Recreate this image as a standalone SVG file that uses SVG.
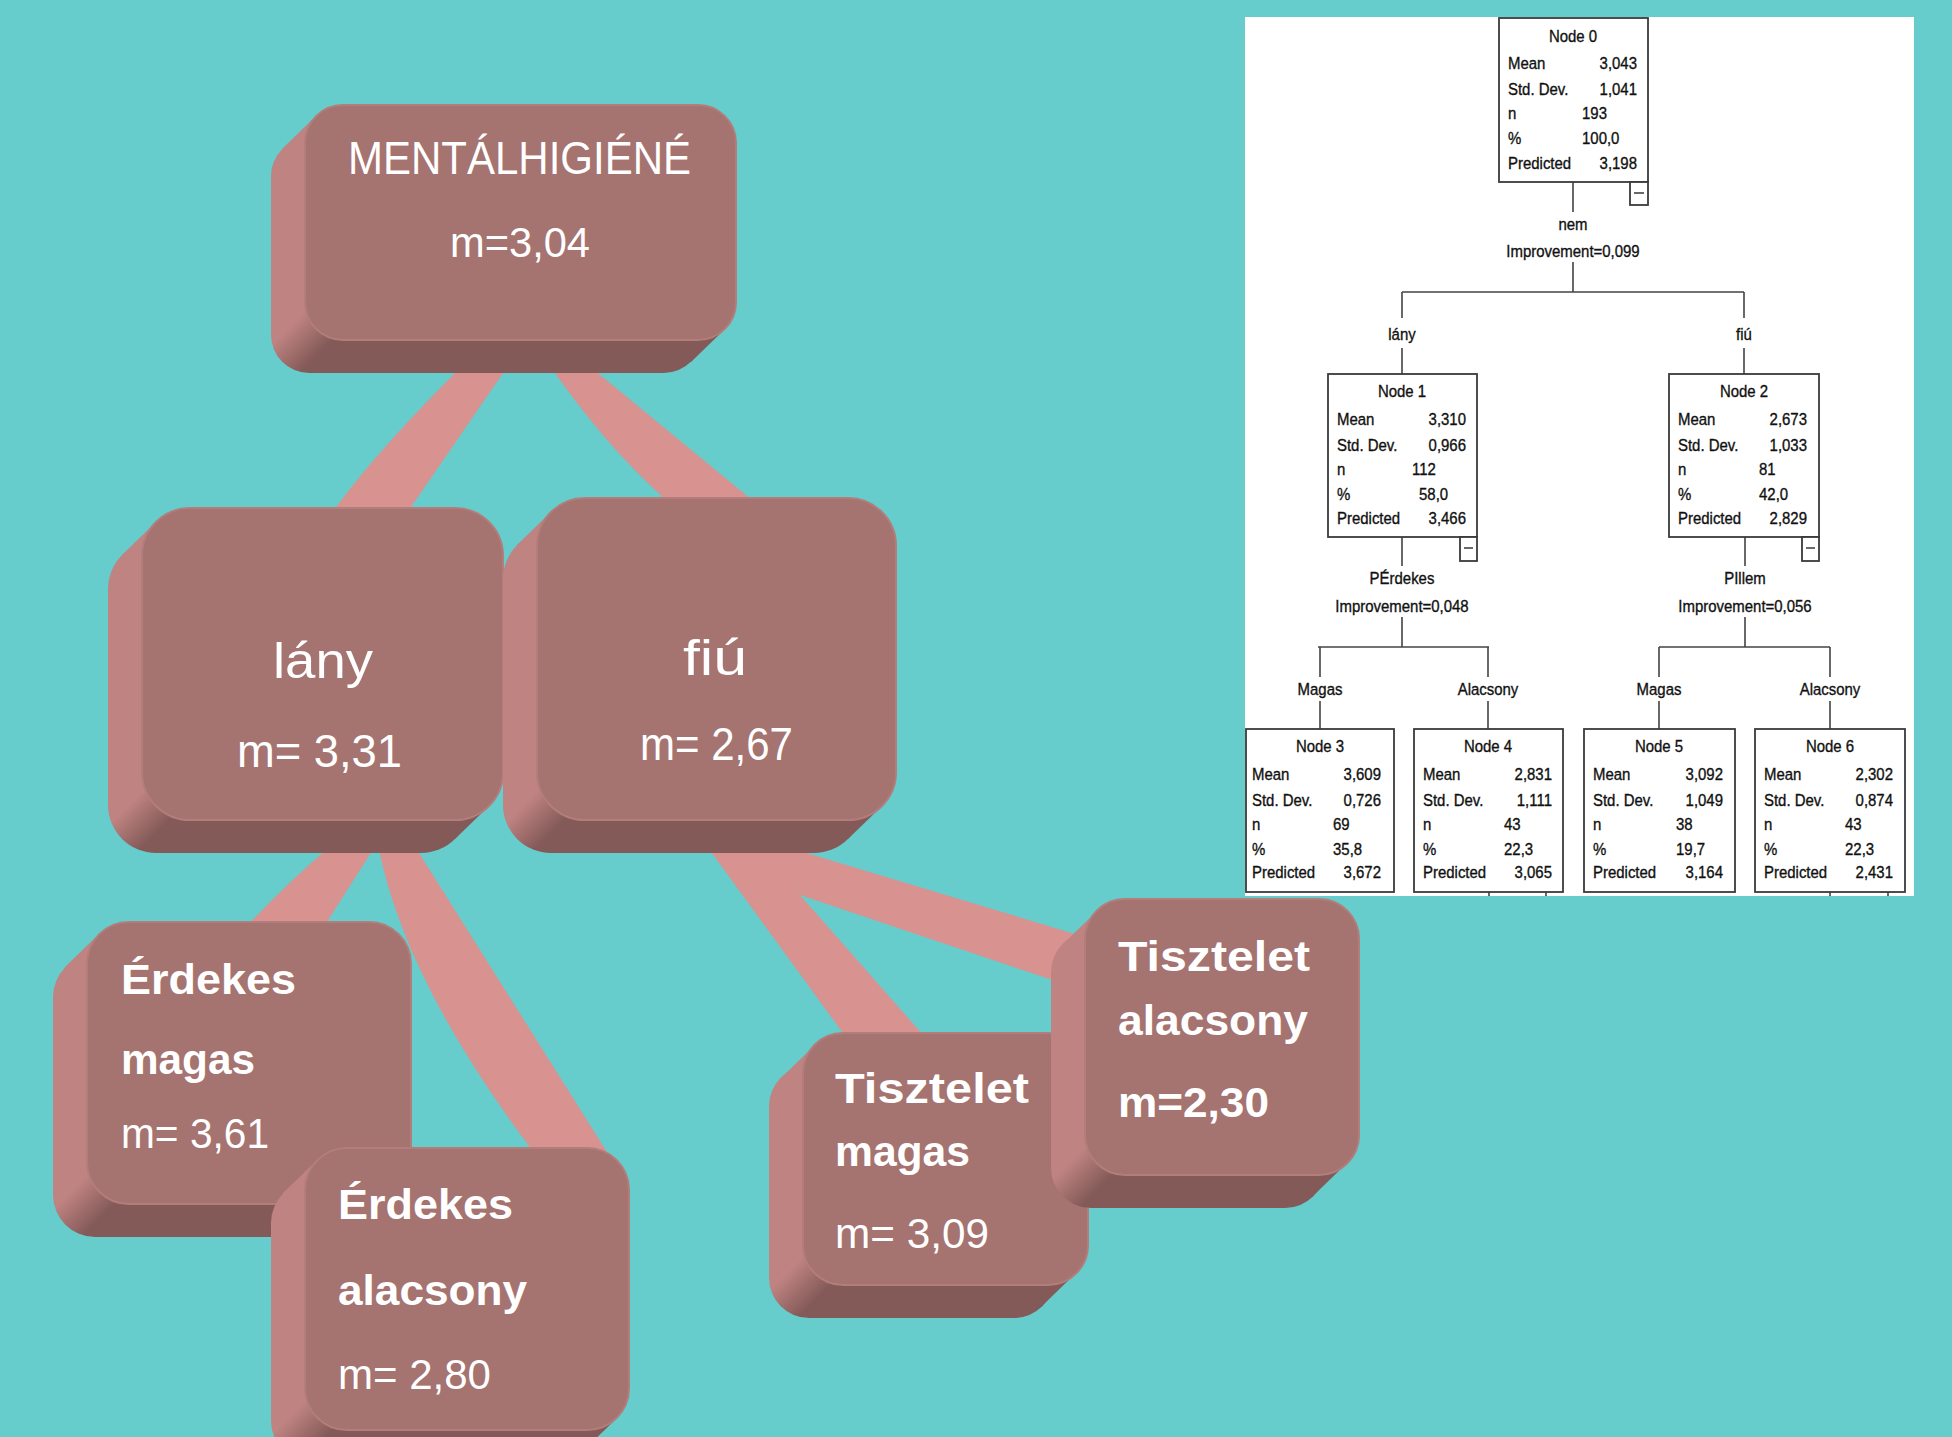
<svg xmlns="http://www.w3.org/2000/svg" width="1952" height="1437" viewBox="0 0 1952 1437">
<defs>
<linearGradient id="side" gradientUnits="userSpaceOnUse" x1="-14" y1="-14" x2="14" y2="14">
<stop offset="0" stop-color="#bf8381"/>
<stop offset="1" stop-color="#835a58"/>
</linearGradient>
<style>
.back{fill:url(#side)}
.face{fill:#a57370;stroke:#b27d7a;stroke-width:2}
.band{fill:#d89391}
.lbl{font-family:"Liberation Sans",Arial,sans-serif;fill:#ffffff}
.b{font-weight:bold}
.pt{font-family:"Liberation Sans",Arial,sans-serif;font-size:17px;fill:#111;stroke:#111;stroke-width:0.35}
.box{fill:#fff;stroke:#3a3a3a;stroke-width:1.8}
.ln{stroke:#444;stroke-width:1.6;fill:none}
</style>
</defs>
<rect x="0" y="0" width="1952" height="1437" fill="#66cccc"/>

<g id="connectors">
<path class="band" d="M468,360 L512,360 L409,510 L334,510 Q378,449 468,360 Z"/>
<path class="band" d="M546,360 L582,360 L752,500 L666,500 Q603,444 546,360 Z"/>
<path class="band" d="M332,845 L376,845 L325,925 L248,925 Q290,880 332,845 Z"/>
<path class="band" d="M378,845 L414,845 L612,1160 L532,1150 Q404,980 378,845 Z"/>
<path class="band" d="M706,845 L782,845 L800,895 L924,1036 L845,1036 Z"/>
<path class="band" d="M780,845 L1088,938 L1088,992 L800,895 Z"/>
</g>

<g id="node-mentalhigiene">
<g transform="translate(305,340)">
<rect class="back" x="-34" y="-202" width="431" height="235" rx="38"/>
<polygon class="back" points="11,-224 420,-11 386,22 -23,-191"/>
<rect class="face" x="0" y="-235" width="431" height="235" rx="38"/>
</g>
<text class="lbl" x="348" y="174" font-size="46" textLength="343" lengthAdjust="spacingAndGlyphs">MENTÁLHIGIÉNÉ</text>
<text class="lbl" x="450" y="257" font-size="42" textLength="140" lengthAdjust="spacingAndGlyphs">m=3,04</text>
</g>

<g id="node-lany">
<g transform="translate(142,820)">
<rect class="back" x="-34" y="-279" width="361" height="312" rx="48"/>
<polygon class="back" points="14,-298 347,-14 313,19 -20,-265"/>
<rect class="face" x="0" y="-312" width="361" height="312" rx="48"/>
</g>
<text class="lbl" x="273" y="678" font-size="50" textLength="100" lengthAdjust="spacingAndGlyphs">lány</text>
<text class="lbl" x="237" y="767" font-size="46" textLength="165" lengthAdjust="spacingAndGlyphs">m= 3,31</text>
</g>

<g id="node-fiu">
<g transform="translate(537,820)">
<rect class="back" x="-34" y="-289" width="359" height="322" rx="48"/>
<polygon class="back" points="14,-308 345,-14 311,19 -20,-275"/>
<rect class="face" x="0" y="-322" width="359" height="322" rx="48"/>
</g>
<text class="lbl" x="683" y="675" font-size="50" textLength="64" lengthAdjust="spacingAndGlyphs">fiú</text>
<text class="lbl" x="640" y="760" font-size="46" textLength="153" lengthAdjust="spacingAndGlyphs">m= 2,67</text>
</g>

<g id="node-erdekes-magas">
<g transform="translate(87,1204)">
<rect class="back" x="-34" y="-249" width="324" height="282" rx="42"/>
<polygon class="back" points="12,-270 312,-12 278,21 -22,-237"/>
<rect class="face" x="0" y="-282" width="324" height="282" rx="42"/>
</g>
<text class="lbl b" x="121" y="994" font-size="42" textLength="175" lengthAdjust="spacingAndGlyphs">Érdekes</text>
<text class="lbl b" x="121" y="1074" font-size="42" textLength="134" lengthAdjust="spacingAndGlyphs">magas</text>
<text class="lbl" x="121" y="1148" font-size="42" textLength="148" lengthAdjust="spacingAndGlyphs">m= 3,61</text>
</g>

<g id="node-erdekes-alacsony">
<g transform="translate(305,1430)">
<rect class="back" x="-34" y="-249" width="324" height="282" rx="42"/>
<polygon class="back" points="12,-270 312,-12 278,21 -22,-237"/>
<rect class="face" x="0" y="-282" width="324" height="282" rx="42"/>
</g>
<text class="lbl b" x="338" y="1219" font-size="42" textLength="175" lengthAdjust="spacingAndGlyphs">Érdekes</text>
<text class="lbl b" x="338" y="1305" font-size="42" textLength="189" lengthAdjust="spacingAndGlyphs">alacsony</text>
<text class="lbl" x="338" y="1389" font-size="42" textLength="153" lengthAdjust="spacingAndGlyphs">m= 2,80</text>
</g>

<g id="node-tisztelet-magas">
<g transform="translate(803,1285)">
<rect class="back" x="-34" y="-219" width="285" height="252" rx="40"/>
<polygon class="back" points="12,-240 273,-12 239,21 -22,-207"/>
<rect class="face" x="0" y="-252" width="285" height="252" rx="40"/>
</g>
<text class="lbl b" x="835" y="1103" font-size="43" textLength="194" lengthAdjust="spacingAndGlyphs">Tisztelet</text>
<text class="lbl b" x="835" y="1166" font-size="43" textLength="135" lengthAdjust="spacingAndGlyphs">magas</text>
<text class="lbl" x="835" y="1248" font-size="43" textLength="154" lengthAdjust="spacingAndGlyphs">m= 3,09</text>
</g>

<g id="node-tisztelet-alacsony">
<g transform="translate(1085,1175)">
<rect class="back" x="-34" y="-243" width="274" height="276" rx="40"/>
<polygon class="back" points="12,-264 262,-12 228,21 -22,-231"/>
<rect class="face" x="0" y="-276" width="274" height="276" rx="40"/>
</g>
<text class="lbl b" x="1118" y="971" font-size="43" textLength="192" lengthAdjust="spacingAndGlyphs">Tisztelet</text>
<text class="lbl b" x="1118" y="1035" font-size="43" textLength="190" lengthAdjust="spacingAndGlyphs">alacsony</text>
<text class="lbl b" x="1118" y="1117" font-size="43" textLength="151" lengthAdjust="spacingAndGlyphs">m=2,30</text>
</g>

<g id="spss-tree">
<rect x="1245" y="17" width="669" height="879" fill="#ffffff"/>
<g id="tree-lines">
<path class="ln" d="M1573,182V212M1573,262V292M1402,292H1744M1402,292V318M1402,348V374M1744,292V318M1744,348V374"/>
<path class="ln" d="M1402,537V566M1402,617V647M1745,537V566M1745,617V647M1318,647H1489M1659,647H1830"/>
<path class="ln" d="M1320,647V677M1320,701V729M1488,647V677M1488,701V729M1659,647V677M1659,701V729M1830,647V677M1830,701V729"/>
<path class="ln" d="M1489,892V896M1546,892V896M1830,892V896M1888,892V896"/>
</g>
<g id="tree-node0">
<rect class="box" x="1499" y="18" width="149" height="164"/>
<rect class="box" x="1630" y="182" width="18" height="23"/>
<path class="ln" d="M1634,193H1644"/>
<text class="pt" text-anchor="middle" transform="translate(1573,42) scale(.88,1)">Node 0</text>
<text class="pt" transform="translate(1508,69) scale(.88,1)">Mean</text>
<text class="pt" text-anchor="end" transform="translate(1637,69) scale(.88,1)">3,043</text>
<text class="pt" transform="translate(1508,95) scale(.88,1)">Std. Dev.</text>
<text class="pt" text-anchor="end" transform="translate(1637,95) scale(.88,1)">1,041</text>
<text class="pt" transform="translate(1508,119) scale(.88,1)">n</text>
<text class="pt" transform="translate(1582,119) scale(.88,1)">193</text>
<text class="pt" transform="translate(1508,144) scale(.88,1)">%</text>
<text class="pt" transform="translate(1582,144) scale(.88,1)">100,0</text>
<text class="pt" transform="translate(1508,169) scale(.88,1)">Predicted</text>
<text class="pt" text-anchor="end" transform="translate(1637,169) scale(.88,1)">3,198</text>
</g>
<text class="pt" text-anchor="middle" transform="translate(1573,230) scale(.88,1)">nem</text>
<text class="pt" text-anchor="middle" transform="translate(1573,257) scale(.88,1)">Improvement=0,099</text>
<text class="pt" text-anchor="middle" transform="translate(1402,340) scale(.88,1)">lány</text>
<text class="pt" text-anchor="middle" transform="translate(1744,340) scale(.88,1)">fiú</text>
<g id="tree-node1">
<rect class="box" x="1328" y="374" width="149" height="163"/>
<rect class="box" x="1460" y="537" width="17" height="24"/>
<path class="ln" d="M1464,548H1473"/>
<text class="pt" text-anchor="middle" transform="translate(1402,397) scale(.88,1)">Node 1</text>
<text class="pt" transform="translate(1337,425) scale(.88,1)">Mean</text>
<text class="pt" text-anchor="end" transform="translate(1466,425) scale(.88,1)">3,310</text>
<text class="pt" transform="translate(1337,451) scale(.88,1)">Std. Dev.</text>
<text class="pt" text-anchor="end" transform="translate(1466,451) scale(.88,1)">0,966</text>
<text class="pt" transform="translate(1337,475) scale(.88,1)">n</text>
<text class="pt" transform="translate(1412,475) scale(.88,1)">112</text>
<text class="pt" transform="translate(1337,500) scale(.88,1)">%</text>
<text class="pt" transform="translate(1419,500) scale(.88,1)">58,0</text>
<text class="pt" transform="translate(1337,524) scale(.88,1)">Predicted</text>
<text class="pt" text-anchor="end" transform="translate(1466,524) scale(.88,1)">3,466</text>
</g>
<g id="tree-node2">
<rect class="box" x="1669" y="374" width="150" height="163"/>
<rect class="box" x="1802" y="537" width="17" height="24"/>
<path class="ln" d="M1806,548H1815"/>
<text class="pt" text-anchor="middle" transform="translate(1744,397) scale(.88,1)">Node 2</text>
<text class="pt" transform="translate(1678,425) scale(.88,1)">Mean</text>
<text class="pt" text-anchor="end" transform="translate(1807,425) scale(.88,1)">2,673</text>
<text class="pt" transform="translate(1678,451) scale(.88,1)">Std. Dev.</text>
<text class="pt" text-anchor="end" transform="translate(1807,451) scale(.88,1)">1,033</text>
<text class="pt" transform="translate(1678,475) scale(.88,1)">n</text>
<text class="pt" transform="translate(1759,475) scale(.88,1)">81</text>
<text class="pt" transform="translate(1678,500) scale(.88,1)">%</text>
<text class="pt" transform="translate(1759,500) scale(.88,1)">42,0</text>
<text class="pt" transform="translate(1678,524) scale(.88,1)">Predicted</text>
<text class="pt" text-anchor="end" transform="translate(1807,524) scale(.88,1)">2,829</text>
</g>
<text class="pt" text-anchor="middle" transform="translate(1402,584) scale(.88,1)">PÉrdekes</text>
<text class="pt" text-anchor="middle" transform="translate(1402,612) scale(.88,1)">Improvement=0,048</text>
<text class="pt" text-anchor="middle" transform="translate(1745,584) scale(.88,1)">PIllem</text>
<text class="pt" text-anchor="middle" transform="translate(1745,612) scale(.88,1)">Improvement=0,056</text>
<text class="pt" text-anchor="middle" transform="translate(1320,695) scale(.88,1)">Magas</text>
<text class="pt" text-anchor="middle" transform="translate(1488,695) scale(.88,1)">Alacsony</text>
<text class="pt" text-anchor="middle" transform="translate(1659,695) scale(.88,1)">Magas</text>
<text class="pt" text-anchor="middle" transform="translate(1830,695) scale(.88,1)">Alacsony</text>
<g id="tree-node3">
<rect class="box" x="1246" y="729" width="148" height="163"/>
<text class="pt" text-anchor="middle" transform="translate(1320,752) scale(.88,1)">Node 3</text>
<text class="pt" transform="translate(1252,780) scale(.88,1)">Mean</text>
<text class="pt" text-anchor="end" transform="translate(1381,780) scale(.88,1)">3,609</text>
<text class="pt" transform="translate(1252,806) scale(.88,1)">Std. Dev.</text>
<text class="pt" text-anchor="end" transform="translate(1381,806) scale(.88,1)">0,726</text>
<text class="pt" transform="translate(1252,830) scale(.88,1)">n</text>
<text class="pt" transform="translate(1333,830) scale(.88,1)">69</text>
<text class="pt" transform="translate(1252,855) scale(.88,1)">%</text>
<text class="pt" transform="translate(1333,855) scale(.88,1)">35,8</text>
<text class="pt" transform="translate(1252,878) scale(.88,1)">Predicted</text>
<text class="pt" text-anchor="end" transform="translate(1381,878) scale(.88,1)">3,672</text>
</g>
<g id="tree-node4">
<rect class="box" x="1414" y="729" width="149" height="163"/>
<text class="pt" text-anchor="middle" transform="translate(1488,752) scale(.88,1)">Node 4</text>
<text class="pt" transform="translate(1423,780) scale(.88,1)">Mean</text>
<text class="pt" text-anchor="end" transform="translate(1552,780) scale(.88,1)">2,831</text>
<text class="pt" transform="translate(1423,806) scale(.88,1)">Std. Dev.</text>
<text class="pt" text-anchor="end" transform="translate(1552,806) scale(.88,1)">1,111</text>
<text class="pt" transform="translate(1423,830) scale(.88,1)">n</text>
<text class="pt" transform="translate(1504,830) scale(.88,1)">43</text>
<text class="pt" transform="translate(1423,855) scale(.88,1)">%</text>
<text class="pt" transform="translate(1504,855) scale(.88,1)">22,3</text>
<text class="pt" transform="translate(1423,878) scale(.88,1)">Predicted</text>
<text class="pt" text-anchor="end" transform="translate(1552,878) scale(.88,1)">3,065</text>
</g>
<g id="tree-node5">
<rect class="box" x="1584" y="729" width="151" height="163"/>
<text class="pt" text-anchor="middle" transform="translate(1659,752) scale(.88,1)">Node 5</text>
<text class="pt" transform="translate(1593,780) scale(.88,1)">Mean</text>
<text class="pt" text-anchor="end" transform="translate(1723,780) scale(.88,1)">3,092</text>
<text class="pt" transform="translate(1593,806) scale(.88,1)">Std. Dev.</text>
<text class="pt" text-anchor="end" transform="translate(1723,806) scale(.88,1)">1,049</text>
<text class="pt" transform="translate(1593,830) scale(.88,1)">n</text>
<text class="pt" transform="translate(1676,830) scale(.88,1)">38</text>
<text class="pt" transform="translate(1593,855) scale(.88,1)">%</text>
<text class="pt" transform="translate(1676,855) scale(.88,1)">19,7</text>
<text class="pt" transform="translate(1593,878) scale(.88,1)">Predicted</text>
<text class="pt" text-anchor="end" transform="translate(1723,878) scale(.88,1)">3,164</text>
</g>
<g id="tree-node6">
<rect class="box" x="1755" y="729" width="150" height="163"/>
<text class="pt" text-anchor="middle" transform="translate(1830,752) scale(.88,1)">Node 6</text>
<text class="pt" transform="translate(1764,780) scale(.88,1)">Mean</text>
<text class="pt" text-anchor="end" transform="translate(1893,780) scale(.88,1)">2,302</text>
<text class="pt" transform="translate(1764,806) scale(.88,1)">Std. Dev.</text>
<text class="pt" text-anchor="end" transform="translate(1893,806) scale(.88,1)">0,874</text>
<text class="pt" transform="translate(1764,830) scale(.88,1)">n</text>
<text class="pt" transform="translate(1845,830) scale(.88,1)">43</text>
<text class="pt" transform="translate(1764,855) scale(.88,1)">%</text>
<text class="pt" transform="translate(1845,855) scale(.88,1)">22,3</text>
<text class="pt" transform="translate(1764,878) scale(.88,1)">Predicted</text>
<text class="pt" text-anchor="end" transform="translate(1893,878) scale(.88,1)">2,431</text>
</g>
</g>
</svg>
